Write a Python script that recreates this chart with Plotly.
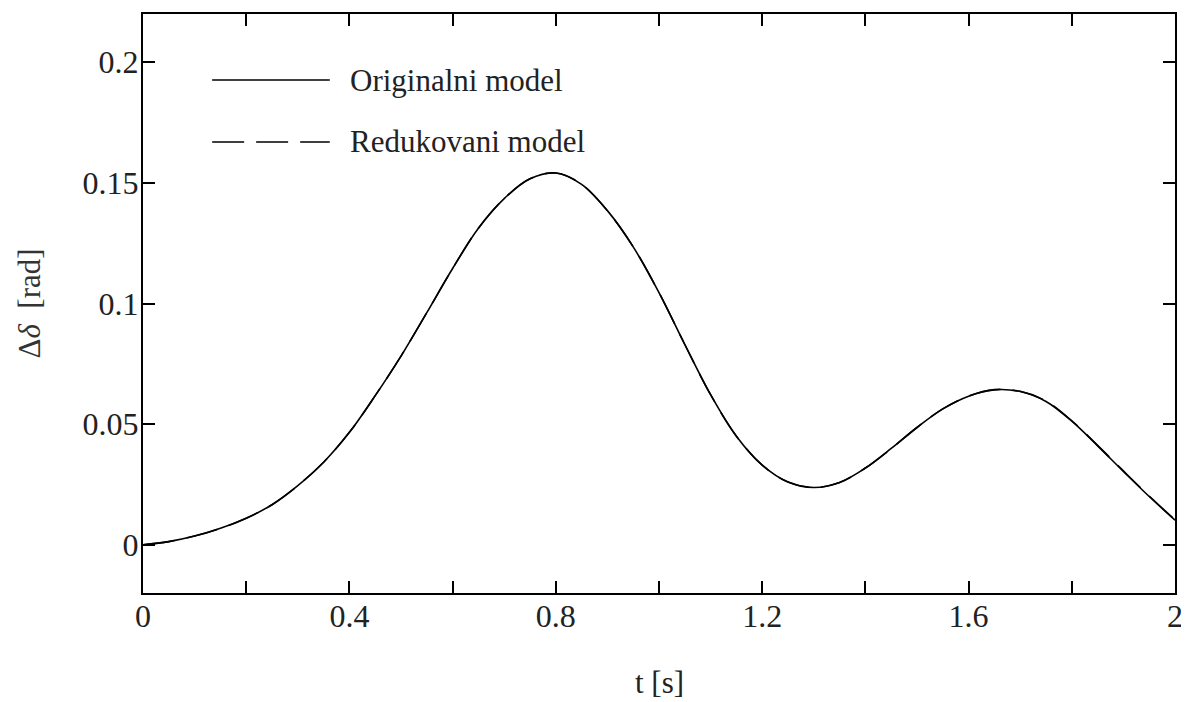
import plotly.graph_objects as go

# time axis [s]
t = [0.00, 0.05, 0.10, 0.15, 0.20, 0.25, 0.30, 0.35, 0.40, 0.45,
     0.50, 0.55, 0.60, 0.65, 0.70, 0.75, 0.80, 0.85, 0.90, 0.95,
     1.00, 1.05, 1.10, 1.15, 1.20, 1.25, 1.30, 1.35, 1.40, 1.45,
     1.50, 1.55, 1.60, 1.65, 1.70, 1.75, 1.80, 1.85, 1.90, 1.95, 2.00]

# original model delta-delta [rad]
original = [0.0000, 0.0013, 0.0036, 0.0068, 0.0110, 0.0166, 0.0245, 0.0342, 0.0466, 0.0618,
            0.0782, 0.0962, 0.1145, 0.1312, 0.1435, 0.1517, 0.1541, 0.1494, 0.1385, 0.1235,
            0.1045, 0.0830, 0.0622, 0.0450, 0.0330, 0.0260, 0.0237, 0.0258, 0.0318, 0.0399,
            0.0486, 0.0563, 0.0616, 0.0642, 0.0635, 0.0594, 0.0512, 0.0410, 0.0304, 0.0200, 0.0102]

# reduced model delta-delta [rad]
reduced = [0.0000, 0.0013, 0.0036, 0.0068, 0.0110, 0.0166, 0.0245, 0.0342, 0.0466, 0.0618,
           0.0782, 0.0962, 0.1145, 0.1312, 0.1435, 0.1517, 0.1541, 0.1494, 0.1385, 0.1235,
           0.1045, 0.0830, 0.0622, 0.0450, 0.0330, 0.0260, 0.0237, 0.0258, 0.0318, 0.0399,
           0.0486, 0.0563, 0.0616, 0.0643, 0.0636, 0.0596, 0.0514, 0.0412, 0.0306, 0.0202, 0.0103]

series_names = ["Originalni model", "Redukovani model"]

x_tickvals = [0, 0.2, 0.4, 0.6, 0.8, 1.0, 1.2, 1.4, 1.6, 1.8, 2.0]
x_ticktext = ["0", "", "0.4", "", "0.8", "", "1.2", "", "1.6", "", "2"]
y_tickvals = [0, 0.05, 0.1, 0.15, 0.2]
y_ticktext = ["0", "0.05", "0.1", "0.15", "0.2"]

FONT = "Liberation Serif, Times New Roman, serif"
FS_TICK = 32
FS_TEXT = 31
TXT = "#222"

fig = go.Figure()
fig.add_trace(go.Scatter(x=t, y=original, mode="lines", name=series_names[0],
                         line=dict(color="black", width=1.6, shape="spline", smoothing=1.0),
                         showlegend=False))
fig.add_trace(go.Scatter(x=t, y=reduced, mode="lines", name=series_names[1],
                         line=dict(color="black", width=1.6, dash="32px,12px",
                                   shape="spline", smoothing=1.0),
                         showlegend=False))

# legend drawn manually (long line samples, as in the original figure)
legend_rows = [(0.886, "solid"), (0.779, "32px,12px")]
for (yp, dash), name in zip(legend_rows, series_names):
    fig.add_shape(type="line", xref="paper", yref="paper",
                  x0=0.067, x1=0.181, y0=yp, y1=yp,
                  line=dict(color="black", width=1.6, dash=dash))
    fig.add_annotation(xref="paper", yref="paper", x=0.199, y=yp,
                       text=name, showarrow=False, xanchor="left", yanchor="middle",
                       font=dict(family=FONT, size=FS_TEXT, color=TXT))

# axis titles
fig.add_annotation(xref="paper", yref="paper", x=0.5, y=-0.155,
                   text="t [s]", showarrow=False, xanchor="center", yanchor="middle",
                   font=dict(family=FONT, size=FS_TEXT, color=TXT))
fig.add_annotation(xref="paper", yref="paper", x=-0.1095, y=0.5,
                   text="Δ<i>δ</i>  [rad]", showarrow=False, textangle=-90,
                   xanchor="center", yanchor="middle",
                   font=dict(family=FONT, size=FS_TEXT, color="#333"))

fig.update_xaxes(range=[0, 2], tickvals=x_tickvals, ticktext=x_ticktext,
                 ticks="inside", ticklen=12, tickwidth=2, tickcolor="black",
                 showline=True, linecolor="black", linewidth=2, mirror="ticks",
                 showgrid=False, zeroline=False, automargin=False,
                 ticklabelstandoff=-6,
                 tickfont=dict(family=FONT, size=FS_TICK, color=TXT))
fig.update_yaxes(range=[-0.02, 0.22], tickvals=y_tickvals, ticktext=y_ticktext,
                 ticks="inside", ticklen=12, tickwidth=2, tickcolor="black",
                 showline=True, linecolor="black", linewidth=2, mirror="ticks",
                 showgrid=False, zeroline=False, automargin=False,
                 ticklabelstandoff=-4,
                 tickfont=dict(family=FONT, size=FS_TICK, color=TXT))

# the page body adds an 8px offset, so the figure is sized/margined to compensate
fig.update_layout(width=1177, height=694,
                  margin=dict(l=135, r=10, t=6, b=109, autoexpand=False),
                  plot_bgcolor="white", paper_bgcolor="white")

fig.write_html("out.html")
